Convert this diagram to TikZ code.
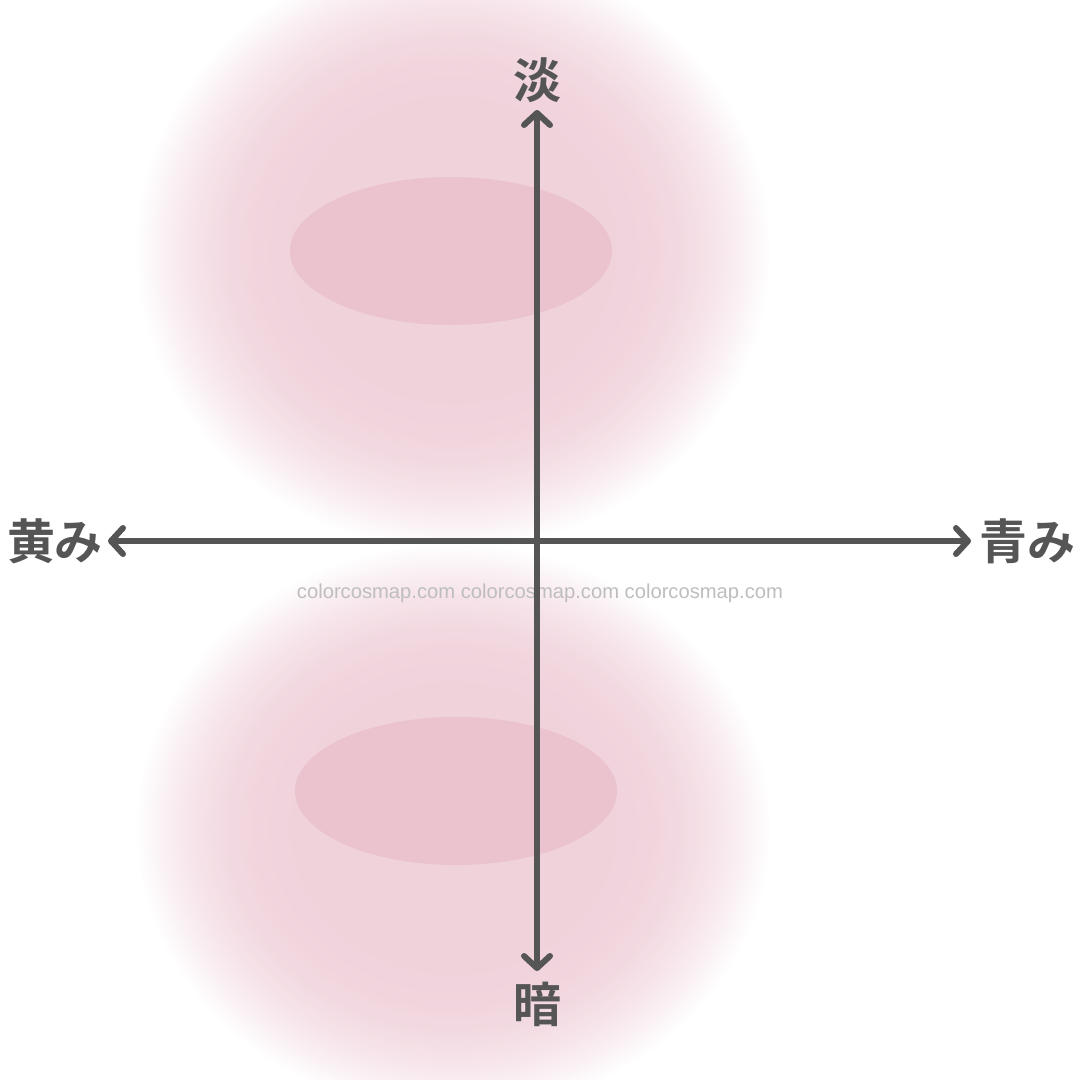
\documentclass[tikz,border=0pt]{standalone}
\usepackage{fontspec}
\newfontfamily\cjk{Noto Sans CJK JP Bold}
\newfontfamily\wmfont{Liberation Sans}
\usetikzlibrary{arrows.meta}
\definecolor{blobc}{RGB}{240,210,219}
\definecolor{ellc}{RGB}{235,195,206}
\definecolor{axisc}{RGB}{85,85,85}
\definecolor{wmc}{RGB}{190,190,190}
\pgfdeclareradialshading{blobshade}{\pgfpoint{0bp}{0bp}}{%
  color(0bp)=(blobc); color(12bp)=(blobc); color(15bp)=(blobc!96!white);
  color(18bp)=(blobc!82!white); color(20.5bp)=(blobc!60!white);
  color(22.5bp)=(blobc!36!white); color(24bp)=(blobc!15!white);
  color(25bp)=(white); color(50bp)=(white)}
\tikzset{
  blob/.style={shading=blobshade},
  innerell/.style={fill=ellc, draw=none},
  axisline/.style={draw=axisc, line width=6pt, line cap=round,
    {Straight Barb[length=12pt,width=26pt,line cap=round,line join=round]}-{Straight Barb[length=12pt,width=26pt,line cap=round,line join=round]}},
  axlabel/.style={text=axisc, font=\cjk\fontsize{48}{52}\selectfont, inner sep=0pt},
  watermark/.style={text=wmc, font=\wmfont\fontsize{20.2}{22}\selectfont, inner sep=0pt}
}
\begin{document}
\begin{tikzpicture}[x=1pt,y=-1pt]
\useasboundingbox (0,0) rectangle (1080,1080);
\fill[white] (0,0) rectangle (1080,1080);
% blurred blobs
\shade[blob] (453,250) ellipse [x radius=318, y radius=300];
\shade[blob] (453,828) ellipse [x radius=318, y radius=285];
% inner ellipses
\fill[innerell] (451,251) ellipse [x radius=161, y radius=74];
\fill[innerell] (456,791) ellipse [x radius=161, y radius=74];
% watermark
\node[watermark] (wm) at (540,593) {colorcosmap.com colorcosmap.com colorcosmap.com};
% axis end points
\coordinate (vtop) at (537,110);
\coordinate (vbot) at (537,971);
\coordinate (hleft) at (108,541);
\coordinate (hright) at (971,541);
\draw[axisline] (vtop) -- (vbot);
\draw[axisline] (hleft) -- (hright);
% labels
\node[axlabel] (light) at (537,80) {淡};
\node[axlabel] (dark) at (537,1004) {暗};
\node[axlabel] (yellow) at (55,541) {黄み};
\node[axlabel] (blue) at (1027,541) {青み};
\end{tikzpicture}
\end{document}
